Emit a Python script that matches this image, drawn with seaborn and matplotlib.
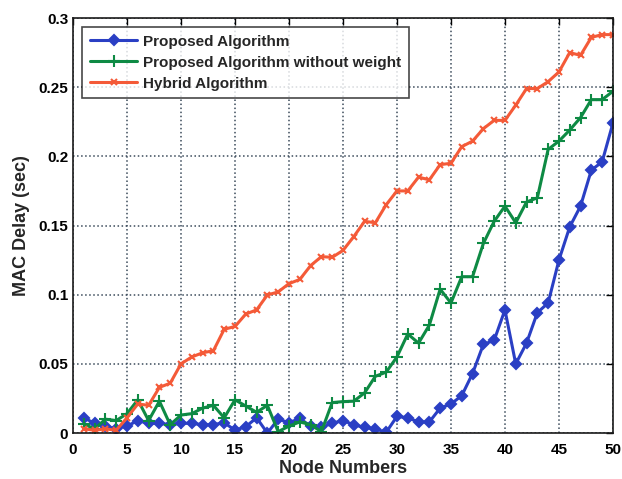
import numpy as np
import pandas as pd
import seaborn as sns
import matplotlib
matplotlib.use('Agg')
import matplotlib.pyplot as plt

# -------------------------------
# Dados
# -------------------------------
nodes = list(range(1, 51))

proposed = [0.011, 0.007, 0.005, 0.003, 0.005, 0.009, 0.007, 0.007, 0.006, 0.007,
            0.007, 0.006, 0.006, 0.0075, 0.002, 0.0046, 0.011, 0.0, 0.010, 0.0075,
            0.0105, 0.005, 0.004, 0.007, 0.009, 0.006, 0.004, 0.003, 0.0005, 0.012,
            0.011, 0.008, 0.008, 0.018, 0.021, 0.027, 0.043, 0.064, 0.067, 0.089,
            0.050, 0.065, 0.087, 0.094, 0.125, 0.149, 0.164, 0.190, 0.196, 0.224]

no_weight = [0.0065, 0.003, 0.010, 0.009, 0.014, 0.024, 0.009, 0.023, 0.006, 0.013,
             0.014, 0.018, 0.020, 0.011, 0.024, 0.0195, 0.015, 0.020, 0.001, 0.005,
             0.008, 0.006, 0.001, 0.022, 0.0227, 0.023, 0.029, 0.041, 0.044, 0.055,
             0.0716, 0.065, 0.078, 0.104, 0.094, 0.113, 0.113, 0.137, 0.153, 0.164,
             0.152, 0.167, 0.170, 0.205, 0.211, 0.219, 0.228, 0.241, 0.241, 0.247]

hybrid = [0.003, 0.002, 0.003, 0.002, 0.011, 0.021, 0.020, 0.033, 0.036, 0.050,
          0.055, 0.058, 0.0595, 0.075, 0.077, 0.086, 0.089, 0.0998, 0.102, 0.108,
          0.111, 0.121, 0.1275, 0.127, 0.132, 0.142, 0.153, 0.152, 0.165, 0.175,
          0.175, 0.185, 0.183, 0.194, 0.195, 0.207, 0.211, 0.220, 0.226, 0.226,
          0.237, 0.249, 0.249, 0.254, 0.261, 0.275, 0.273, 0.286, 0.288, 0.288]

labels = ['Proposed Algorithm', 'Proposed Algorithm without weight', 'Hybrid Algorithm']
x_ticks = [0, 5, 10, 15, 20, 25, 30, 35, 40, 45, 50]
y_ticks = [0, 0.05, 0.1, 0.15, 0.2, 0.25, 0.3]
y_tick_labels = ['0', '0.05', '0.1', '0.15', '0.2', '0.25', '0.3']

# -------------------------------
# Estilo
# -------------------------------
sns.set_style('white')
plt.rcParams['font.family'] = ['Liberation Sans', 'DejaVu Sans']
plt.rcParams['font.weight'] = 'bold'

series = [proposed, no_weight, hybrid]
colors = ['#2a3fc4', '#0e8a44', '#f45a38']
markers = ['D', '+', 'x']
msizes = [5, 9, 5]

fig = plt.figure(figsize=(6.22, 4.79), dpi=100)
ax = fig.add_axes([0.1174, 0.096, 0.868, 0.8664])

for vals, lab, c, m, ms in zip(series, labels, colors, markers, msizes):
    sns.lineplot(x=nodes, y=vals, ax=ax, color=c, marker=m, markersize=ms,
                 markeredgewidth=1.5, markeredgecolor=c, linewidth=2.2, label=lab)

ax.set_xlim(0, 50)
ax.set_ylim(0, 0.3)
ax.set_xticks(x_ticks)
ax.set_yticks(y_ticks)
ax.set_yticklabels(y_tick_labels)
ax.tick_params(direction='in', top=True, right=True, length=5, labelsize=11, width=1, colors='black')
ax.tick_params(axis='x', pad=7)
for lab in ax.get_xticklabels() + ax.get_yticklabels():
    lab.set_fontweight('bold')
ax.grid(True, linestyle=':', color='#3a4a5a', linewidth=1.1)
for s in ax.spines.values():
    s.set_color('#1a1a1a')
    s.set_linewidth(1.2)

ax.set_xlabel('Node Numbers', fontsize=13, fontweight='bold', labelpad=2)
ax.set_ylabel('MAC Delay (sec)', fontsize=13, fontweight='bold', labelpad=6)

leg = ax.legend(loc='upper left', fontsize=11, handlelength=3.1, handletextpad=0.4,
                frameon=True, fancybox=False, edgecolor='#1a1a1a', borderpad=0.5,
                labelspacing=0.45, borderaxespad=0.6)
leg.get_frame().set_linewidth(1.2)
for t in leg.get_texts():
    t.set_fontweight('bold')

plt.savefig('out.png', dpi=100)
